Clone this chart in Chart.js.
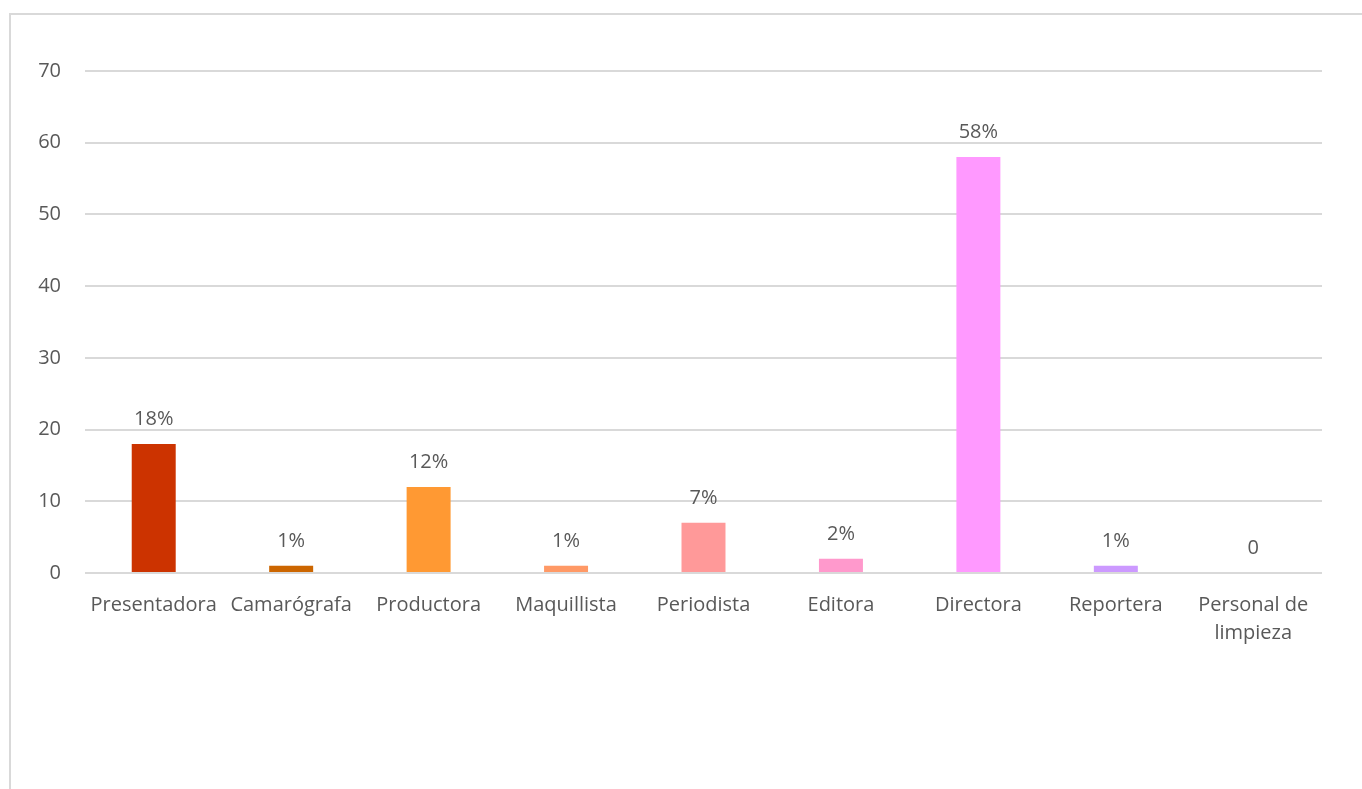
<!DOCTYPE html>
<html>
<head>
<meta charset="utf-8">
<script src="https://cdn.jsdelivr.net/npm/chart.js@4/dist/chart.umd.min.js"></script>
<style>
  html, body { margin: 0; padding: 0; background: #fff; overflow: hidden; }
  #frame { position: absolute; left: 9px; top: 13px; width: 1400px; height: 820px; border: 2px solid #d9d9d9; }
  #wrap { position: absolute; left: 0; top: 0; width: 1362px; height: 789px; }
</style>
</head>
<body>
<div id="frame"></div>
<div id="wrap"><canvas id="grafico" width="1362" height="789"></canvas></div>
<script>
// Datos del gráfico
const categorias = ['Presentadora', 'Camarógrafa', 'Productora', 'Maquillista', 'Periodista', 'Editora', 'Directora', 'Reportera', ['Personal de', 'limpieza']];
const valores = [18, 1, 12, 1, 7, 2, 58, 1, 0];
const etiquetas = ['18%', '1%', '12%', '1%', '7%', '2%', '58%', '1%', '0'];
const colores = ['#cc3300', '#cc6600', '#ff9933', '#ff9966', '#ff9999', '#ff99cc', '#ff99ff', '#cc99ff', '#cc99ff'];
const ticksY = [0, 10, 20, 30, 40, 50, 60, 70];

const fuente = '"Open Sans", "Liberation Sans", sans-serif';
const gris = '#595959';

// Etiquetas encima de las barras
const etiquetasPlugin = {
    id: 'etiquetas',
    afterDatasetsDraw(chart) {
        const ctx = chart.ctx;
        const meta = chart.getDatasetMeta(0);
        ctx.save();
        ctx.font = '20px ' + fuente;
        ctx.fillStyle = gris;
        ctx.textAlign = 'center';
        ctx.textBaseline = 'alphabetic';
        meta.data.forEach((bar, i) => {
            ctx.fillText(etiquetas[i], bar.x, bar.y - 19);
        });
        ctx.restore();
    }
};

new Chart(document.getElementById('grafico'), {
    type: 'bar',
    data: {
        labels: categorias,
        datasets: [{
            data: valores,
            backgroundColor: colores,
            categoryPercentage: 1,
            barPercentage: 0.32
        }]
    },
    options: {
        responsive: false,
        animation: false,
        maintainAspectRatio: false,
        layout: { padding: { left: 0, right: 40, top: 71, bottom: 0 } },
        plugins: { legend: { display: false }, tooltip: { enabled: false } },
        scales: {
            x: {
                grid: { display: false, drawTicks: false },
                border: { display: false },
                ticks: { color: gris, font: { family: fuente, size: 20, lineHeight: 1.4 }, padding: 18, maxRotation: 0, autoSkip: false },
                afterFit(scale) { scale.height = 789 - 573; }
            },
            y: {
                min: 0,
                max: 70,
                afterBuildTicks(scale) { scale.ticks = ticksY.map(v => ({ value: v })); },
                grid: { color: '#d9d9d9', lineWidth: 2, drawTicks: false },
                border: { display: false },
                ticks: { color: gris, font: { family: fuente, size: 20 }, padding: 24 },
                afterFit(scale) { scale.width = 85; }
            }
        }
    },
    plugins: [etiquetasPlugin]
});
</script>
</body>
</html>
